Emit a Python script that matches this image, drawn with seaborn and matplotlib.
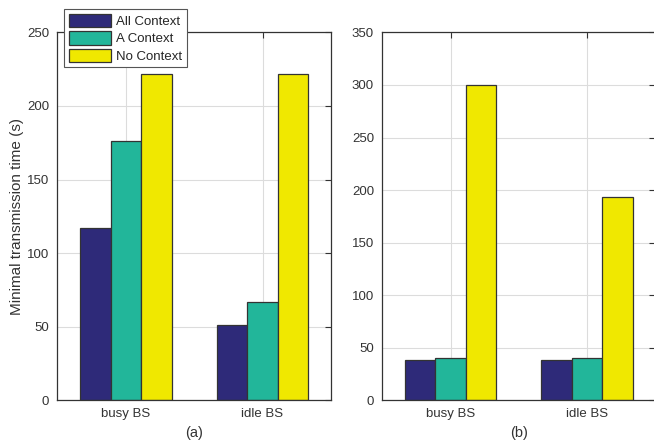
import pandas as pd
import matplotlib.pyplot as plt
import seaborn as sns

sns.set_theme(style="white")
plt.rcParams['font.family'] = ['Liberation Sans', 'DejaVu Sans']

# data
scenarios = ['busy BS', 'idle BS']
methods = ['All Context', 'A Context', 'No Context']
times_a = {'All Context': [117, 51], 'A Context': [176, 67], 'No Context': [222, 222]}
times_b = {'All Context': [38, 38], 'A Context': [40, 40], 'No Context': [300, 193]}
colors = ['#2e2a79', '#22b69a', '#f0e800']
ink = '#333333'


def to_long(d):
    rows = []
    for m in methods:
        for s, v in zip(scenarios, d[m]):
            rows.append({'scenario': s, 'method': m, 'time': v})
    return pd.DataFrame(rows)


fig = plt.figure(figsize=(6.54, 4.45), dpi=100)
ax_a = fig.add_axes([0.0879, 0.101, 0.418, 0.826])
ax_b = fig.add_axes([0.5846, 0.101, 0.4174, 0.826])

panels = [(ax_a, times_a, 250, 50, '(a)'), (ax_b, times_b, 350, 50, '(b)')]
for ax, d, ymax, step, tag in panels:
    sns.barplot(data=to_long(d), x='scenario', y='time', hue='method',
                hue_order=methods, palette=colors, width=0.67, gap=0,
                edgecolor='#333333', linewidth=0.9, saturation=1, ax=ax,
                legend=(ax is ax_a))
    ax.set_xlim(-0.5, 1.5)
    ax.set_ylim(0, ymax)
    ax.set_yticks(range(0, ymax + 1, step))
    ax.grid(True, color='#dcdcdc', linewidth=0.8)
    ax.set_axisbelow(True)
    ax.tick_params(direction='in', length=4, width=0.8, colors=ink,
                   labelsize=9.5, top=True, right=True, pad=6)
    for sp in ax.spines.values():
        sp.set_color(ink)
        sp.set_linewidth(0.9)
    ax.set_xlabel(tag, fontsize=10.5, color=ink, labelpad=4)
    ax.set_ylabel('')

ax_a.set_ylabel('Minimal transmission time (s)', fontsize=11, color=ink, labelpad=2)

handles, labels = ax_a.get_legend_handles_labels()
ax_a.get_legend().remove()
leg = fig.legend(handles, labels, loc='upper left', bbox_to_anchor=(0.098, 0.98),
                 fontsize=9.5, frameon=True, fancybox=False, framealpha=1,
                 edgecolor='#555555', handlelength=3.2, handleheight=1.2,
                 handletextpad=0.4, labelspacing=0.25, borderpad=0.35,
                 borderaxespad=0)
leg.get_frame().set_linewidth(0.8)

fig.savefig('out.png', dpi=100)
